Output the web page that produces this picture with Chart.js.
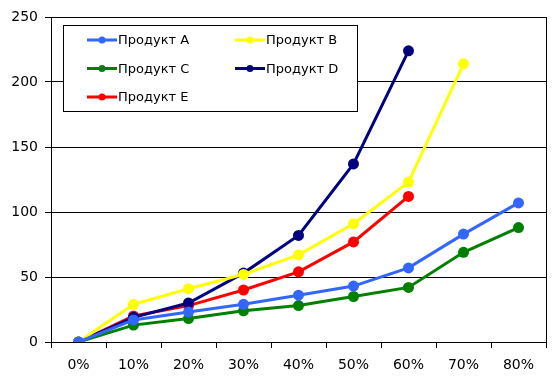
<!DOCTYPE html>
<html>
<head>
<meta charset="utf-8">
<script src="https://cdn.jsdelivr.net/npm/chart.js@4/dist/chart.umd.min.js"></script>
<style>
    html, body { margin: 0; padding: 0; background: #fff; }
    #wrap { width: 552px; height: 383px; }
</style>
</head>
<body>
<div id="wrap"><canvas id="chart" width="552" height="383"></canvas></div>
<script>
// данные графика
const categories = ['0%', '10%', '20%', '30%', '40%', '50%', '60%', '70%', '80%'];
const seriesNames = ['Продукт A', 'Продукт B', 'Продукт C', 'Продукт D', 'Продукт E'];
const productA = [0, 17, 23, 29, 36, 43, 57, 83, 107];
const productB = [0, 29, 41, 52, 67, 91, 123, 214, null];
const productC = [0, 13, 18, 24, 28, 35, 42, 69, 88];
const productD = [0, 19, 30, 53, 82, 137, 224, null, null];
const productE = [0, 20, 28, 40, 54, 77, 112, null, null];
const seriesColors = ['#3366ff', '#ffff00', '#008000', '#000080', '#ff0000'];
const yTicks = [0, 50, 100, 150, 200, 250];

const FONT = '"DejaVu Sans", Verdana, sans-serif';

function makeDataset(i, values) {
    return {
        label: seriesNames[i],
        data: values,
        borderColor: seriesColors[i],
        backgroundColor: seriesColors[i],
        borderWidth: 3,
        pointRadius: 5.5,
        pointHoverRadius: 5.5,
        pointBorderWidth: 0,
        spanGaps: false,
        tension: 0
    };
}

// рамка области построения
const frame = {
    id: 'frame',
    afterDatasetsDraw(chart) {
        const a = chart.chartArea;
        const ctx = chart.ctx;
        ctx.save();
        ctx.strokeStyle = '#000';
        ctx.lineWidth = 1;
        ctx.strokeRect(Math.round(a.left) + 0.5, Math.round(a.top) + 0.5,
            Math.round(a.right - a.left), Math.round(a.bottom - a.top));
        ctx.restore();
    }
};

// легенда в рамке, два столбца
const boxLegend = {
    id: 'boxLegend',
    afterDraw(chart) {
        const ctx = chart.ctx;
        const x0 = 63, y0 = 25, w = 294, h = 86;
        ctx.save();
        ctx.fillStyle = '#fff';
        ctx.fillRect(x0, y0, w, h);
        ctx.strokeStyle = '#000';
        ctx.lineWidth = 1;
        ctx.strokeRect(x0 + 0.5, y0 + 0.5, w, h);
        ctx.font = '13px ' + FONT;
        ctx.textBaseline = 'middle';
        ctx.fillStyle = '#000';
        chart.data.datasets.forEach((ds, i) => {
            const col = i % 2, row = Math.floor(i / 2);
            const lx = 87 + col * 148;
            const ly = 40 + row * 28.5;
            ctx.strokeStyle = ds.borderColor;
            ctx.lineWidth = 3;
            ctx.beginPath();
            ctx.moveTo(lx, ly);
            ctx.lineTo(lx + 30, ly);
            ctx.stroke();
            ctx.fillStyle = ds.borderColor;
            ctx.beginPath();
            ctx.arc(lx + 15, ly, 3.5, 0, Math.PI * 2);
            ctx.fill();
            ctx.fillStyle = '#000';
            ctx.fillText(ds.label, lx + 31, ly + 1);
        });
        ctx.restore();
    }
};

new Chart(document.getElementById('chart').getContext('2d'), {
    type: 'line',
    data: {
        labels: categories,
        datasets: [
            makeDataset(0, productA),
            makeDataset(1, productB),
            makeDataset(2, productC),
            makeDataset(3, productD),
            makeDataset(4, productE)
        ]
    },
    options: {
        responsive: false,
        animation: false,
        layout: { padding: { left: 8, top: 17, right: 6, bottom: 0 } },
        plugins: {
            legend: { display: false },
            tooltip: { enabled: false }
        },
        scales: {
            x: {
                type: 'category',
                offset: true,
                afterFit(axis) { axis.height = 41; },
                grid: {
                    offset: true,
                    drawOnChartArea: false,
                    color: '#000',
                    tickLength: 6
                },
                border: { color: '#000' },
                ticks: {
                    color: '#000',
                    font: { family: FONT, size: 14 },
                    padding: 9,
                    maxRotation: 0
                }
            },
            y: {
                min: 0,
                max: 250,
                afterBuildTicks(axis) {
                    axis.ticks = yTicks.map(v => ({ value: v }));
                },
                afterFit(axis) { axis.width = 43; },
                grid: {
                    color: '#000',
                    tickLength: 6
                },
                border: { color: '#000' },
                ticks: {
                    color: '#000',
                    font: { family: FONT, size: 14 },
                    padding: 7
                }
            }
        }
    },
    plugins: [frame, boxLegend]
});
</script>
</body>
</html>
